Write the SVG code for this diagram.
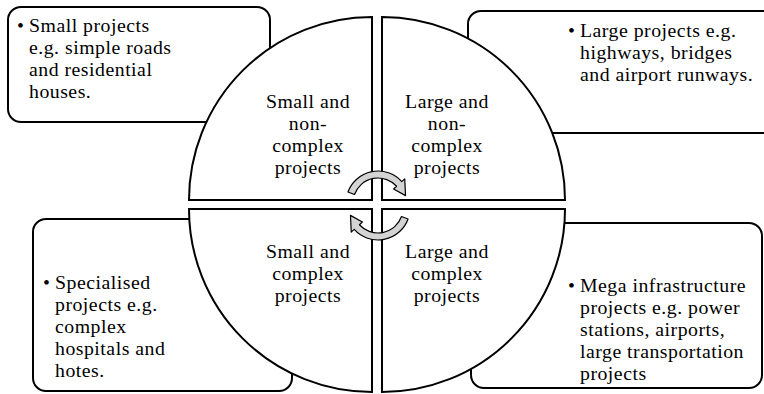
<svg xmlns="http://www.w3.org/2000/svg" width="764" height="394" viewBox="0 0 764 394">
<style>
.box{fill:#fff;stroke:#000;stroke-width:2}
.q{fill:#fff;stroke:#000;stroke-width:2;stroke-linejoin:miter}
.arr{fill:#d4d4d4;stroke:#000;stroke-width:1.2;stroke-linejoin:round}
.t{font-family:'Liberation Serif','Times New Roman',serif;font-size:19.8px;letter-spacing:0.5px;fill:#000}
.c{text-anchor:middle}
</style>
<rect width="764" height="394" fill="#fff"/>
<g id="box-tl"><rect class="box" x="8" y="7" width="262" height="115" rx="13"/>
<text class="t"><tspan x="17" y="31.5">•</tspan><tspan x="29" y="31.5">Small projects</tspan><tspan x="29" y="53.5">e.g. simple roads</tspan><tspan x="29" y="75.5">and residential</tspan><tspan x="29" y="97.5">houses.</tspan></text></g>
<g id="box-tr"><rect class="box" x="468" y="11" width="310" height="122" rx="13"/>
<text class="t"><tspan x="568" y="37">•</tspan><tspan x="580" y="37">Large projects e.g.</tspan><tspan x="580" y="59">highways, bridges</tspan><tspan x="580" y="81">and airport runways.</tspan></text></g>
<g id="box-bl"><rect class="box" x="33" y="219" width="259" height="172" rx="13"/>
<text class="t"><tspan x="43" y="289">•</tspan><tspan x="55" y="289">Specialised</tspan><tspan x="55" y="311">projects e.g.</tspan><tspan x="55" y="333">complex</tspan><tspan x="55" y="355">hospitals and</tspan><tspan x="55" y="377">hotes.</tspan></text></g>
<g id="box-br"><rect class="box" x="471" y="223" width="291" height="165" rx="13"/>
<text class="t"><tspan x="568" y="292">•</tspan><tspan x="580" y="292">Mega infrastructure</tspan><tspan x="580" y="314">projects e.g. power</tspan><tspan x="580" y="336">stations, airports,</tspan><tspan x="580" y="358">large transportation</tspan><tspan x="580" y="380">projects</tspan></text></g>
<g id="q-tl"><path class="q" d="M372 200 L189 200 A183 183 0 0 1 372 17 Z"/>
<text class="t c"><tspan x="308" y="107.5">Small and</tspan><tspan x="308" y="129.5">non-</tspan><tspan x="308" y="151.5">complex</tspan><tspan x="308" y="173.5">projects</tspan></text></g>
<g id="q-tr"><path class="q" d="M382 200 L382 17 A183 183 0 0 1 565 200 Z"/>
<text class="t c"><tspan x="447" y="107.5">Large and</tspan><tspan x="447" y="129.5">non-</tspan><tspan x="447" y="151.5">complex</tspan><tspan x="447" y="173.5">projects</tspan></text></g>
<g id="q-bl"><path class="q" d="M372 209 L372 392 A183 183 0 0 1 189 209 Z"/>
<text class="t c"><tspan x="308" y="258">Small and</tspan><tspan x="308" y="280">complex</tspan><tspan x="308" y="302">projects</tspan></text></g>
<g id="q-br"><path class="q" d="M382 209 L565 209 A183 183 0 0 1 382 392 Z"/>
<text class="t c"><tspan x="447" y="258">Large and</tspan><tspan x="447" y="280">complex</tspan><tspan x="447" y="302">projects</tspan></text></g>
<g id="connectors">
<path id="arrow-top" class="arr" d="M347.93 192.06 A32 32 0 0 1 401.78 181.59 L404.75 178.91 L405.53 195.62 L393.61 188.95 L396.58 186.27 A25 25 0 0 0 354.51 194.45 Z"/>
<path id="arrow-bottom" class="arr" transform="rotate(180 378 205.5)" d="M347.93 192.06 A32 32 0 0 1 401.78 181.59 L404.75 178.91 L405.53 195.62 L393.61 188.95 L396.58 186.27 A25 25 0 0 0 354.51 194.45 Z"/>
</g>
</svg>
